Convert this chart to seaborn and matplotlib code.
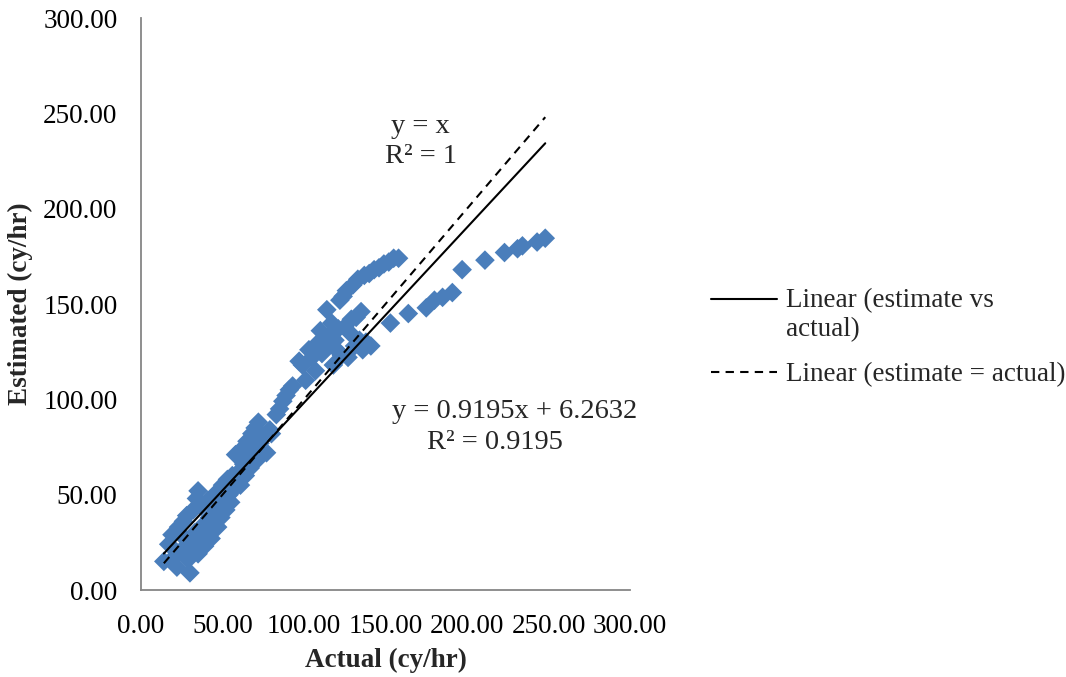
import matplotlib
matplotlib.use("Agg")
import matplotlib.pyplot as plt
import seaborn as sns
import numpy as np

# ---- data ----
actual = [14, 17, 19, 20, 22, 23, 25, 26, 27, 28, 29, 30, 31, 32, 33, 34, 35, 35, 36, 37,
          38, 39, 40, 41, 42, 43, 44, 45, 46, 47, 48, 49, 50, 51, 52, 53, 54, 55, 56,
          57, 58, 59, 60, 61, 62, 63, 64, 65, 66, 67, 68, 69, 70, 71, 72, 73, 75, 77, 79,
          80, 83, 85, 87, 89, 91, 93,
          97, 99, 101, 103, 105, 107, 109, 110, 111, 113, 114, 115, 117, 118, 119, 120,
          121, 122, 123, 124, 125, 126, 127, 128, 129, 130, 131, 132, 133, 134, 135, 136,
          137, 138, 140, 141, 143, 146, 149, 152, 155, 158,
          153, 164, 175, 180, 185, 191, 197, 211, 223, 231, 234, 243, 248]
estimated = [15, 24, 29, 17, 12, 33, 21, 36, 27, 39, 16, 9, 22, 42, 30, 48, 52, 19, 26, 44,
             34, 23, 30, 47, 38, 27, 35, 50, 41, 33, 45, 38, 55, 47, 42, 58, 50, 46, 60,
             53, 71, 57, 62, 55, 74, 66, 60, 78, 70, 64, 82, 73, 85, 68, 88, 77, 80, 72, 84,
             82, 92, 95, 99, 102, 105, 107,
             120, 118, 110, 126, 122, 115, 130, 136, 124, 128, 147, 133, 140, 118, 131, 126,
             137, 152, 123, 154, 138, 157, 122, 135, 142, 160, 128, 143, 163, 131, 146, 126,
             165, 130, 166, 128, 168, 169, 171, 172, 174, 174,
             140, 145, 148, 152, 153.5, 156, 168, 173, 177, 179, 180.5, 182.5, 184.5]

fit_slope = 0.9195
fit_intercept = 6.2632
fit_eq = "y = 0.9195x + 6.2632"
fit_r2 = "R² = 0.9195"
ident_label = "y = x\nR² = 1"
axis_ticks = [0, 50, 100, 150, 200, 250, 300]

# ---- style ----
sns.set_theme(style="white")
plt.rcParams['font.family'] = ['Liberation Serif', 'DejaVu Serif']

FS = 19.5
FS_ANN = 20.5
blue = '#4A7EBB'

fig = plt.figure(figsize=(10.66, 6.77), dpi=100)
ax = fig.add_axes([0.1323, 0.1285, 0.4587, 0.8449])

sns.scatterplot(x=actual, y=estimated, marker='D', s=100, color=blue,
                edgecolor='none', linewidth=0, ax=ax, legend=False, zorder=2)

xa = np.array(actual, dtype=float)
xs = np.array([xa.min(), xa.max()])
sns.lineplot(x=xs, y=fit_slope * xs + fit_intercept, color='black', linewidth=1.5,
             ax=ax, label='Linear (estimate vs\nactual)', zorder=3)
sns.lineplot(x=xs, y=xs, color='black', linewidth=1.5, linestyle=(0, (4, 3)),
             ax=ax, label='Linear (estimate = actual)', zorder=3)

ax.set_xlim(0, 300)
ax.set_ylim(0, 300)
ax.set_xticks(axis_ticks)
ax.set_yticks(axis_ticks)
ax.set_xticklabels([f"{v:.2f}" for v in axis_ticks], fontsize=FS)
ax.set_yticklabels([f"{v:.2f}" for v in axis_ticks], fontsize=FS)
ax.tick_params(axis='both', length=0, pad=17, colors='black')

for s in ['top', 'right']:
    ax.spines[s].set_visible(False)
for s in ['left', 'bottom']:
    ax.spines[s].set_color('#868686')
    ax.spines[s].set_linewidth(1.3)

ax.set_xlabel('Actual (cy/hr)', fontsize=FS, fontweight='bold')
ax.set_ylabel('Estimated (cy/hr)', fontsize=FS, fontweight='bold')
ax.xaxis.set_label_coords(0.5, -0.101)
ax.yaxis.set_label_coords(-0.221, 0.5)

ax.text(171.5, 235.4, ident_label, fontsize=FS_ANN, ha='center', va='center',
        linespacing=1.25)
ax.text(229.4, 93.4, fit_eq, fontsize=FS_ANN, ha='center', va='center')
ax.text(217.2, 77.5, fit_r2, fontsize=FS_ANN, ha='center', va='center')

ax.get_legend().remove()
handles, labels = ax.get_legend_handles_labels()
leg = fig.legend(handles, labels, loc='center left', bbox_to_anchor=(0.6437, 0.5015),
                 frameon=False, fontsize=FS, handlelength=2.45, handletextpad=0.35,
                 labelspacing=0.75)
# put the first handle level with the first line of its two-line label (as in Excel)
first = leg.get_lines()[0]
first.set_ydata(np.asarray(first.get_ydata()) + 11.5)

fig.savefig('out.png', dpi=100)
